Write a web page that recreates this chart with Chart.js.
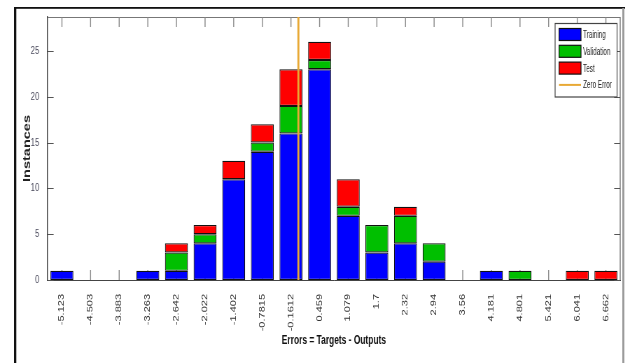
<!DOCTYPE html>
<html>
<head>
<meta charset="utf-8">
<script src="https://cdn.jsdelivr.net/npm/chart.js@4.4.0/dist/chart.umd.min.js"></script>
<style>
  html, body { margin: 0; padding: 0; background: #fff; overflow: hidden; }
  #wrap { width: 630px; height: 363px; overflow: hidden; position: relative; }
  /* the figure is laid out wide and condensed horizontally */
  #c { position: absolute; left: 0; top: 0; transform: scaleX(0.7); transform-origin: 0 0; }
</style>
</head>
<body>
<div id="wrap"><canvas id="c" width="900" height="363"></canvas></div>
<script>
// Error histogram with 20 bins
const binCenters = [-5.123, -4.503, -3.883, -3.263, -2.642, -2.022, -1.402, -0.7815, -0.1612, 0.459,
                    1.079, 1.7, 2.32, 2.94, 3.56, 4.181, 4.801, 5.421, 6.041, 6.662];
const binLabels = ['-5.123', '-4.503', '-3.883', '-3.263', '-2.642', '-2.022', '-1.402', '-0.7815', '-0.1612', '0.459',
                   '1.079', '1.7', '2.32', '2.94', '3.56', '4.181', '4.801', '5.421', '6.041', '6.662'];
const training   = [1, 0, 0, 1, 1, 4, 11, 14, 16, 23, 7, 3, 4, 2, 0, 1, 0, 0, 0, 0];
const validation = [0, 0, 0, 0, 2, 1, 0, 1, 3, 1, 1, 3, 3, 2, 0, 0, 1, 0, 0, 0];
const test       = [0, 0, 0, 0, 1, 1, 2, 2, 4, 2, 3, 0, 1, 0, 0, 0, 0, 0, 1, 1];
const zeroError  = 0;
const yMax = 28.7;
const yStep = 5;

const halfBin = (binCenters[binCenters.length - 1] - binCenters[0]) / (binCenters.length - 1) / 2;
const nz = arr => arr.map(v => (v === 0 ? null : v));

const SANS = "'Liberation Sans', Arial, sans-serif";

const barStyle = {
  borderColor: '#111',
  borderWidth: 1.2,
  borderSkipped: false,
  barPercentage: 0.8,
  categoryPercentage: 1.0,
  grouped: false,
  stack: 'errors',
  xAxisID: 'x',
  yAxisID: 'y'
};

// frame, inward tick marks, box around the plot and the legend
const figurePlugin = {
  id: 'figure',
  beforeDraw(chart) {
    const ctx = chart.ctx;
    ctx.save();
    ctx.fillStyle = '#fff';
    ctx.fillRect(0, 0, chart.width, chart.height);
    ctx.fillStyle = '#111';
    ctx.fillRect(20, 7, 873, 1.8);
    ctx.fillRect(20, 7, 3.3, chart.height - 7);
    ctx.fillStyle = '#9a9a9a';
    ctx.fillRect(889, 8, 2.9, chart.height - 8);
    ctx.restore();
  },
  beforeDatasetsDraw(chart) {
    const ctx = chart.ctx;
    const a = chart.chartArea;
    const xs = chart.scales.x, ys = chart.scales.y;
    ctx.save();
    ctx.strokeStyle = '#777';
    // top and right sides of the box
    ctx.lineWidth = 1;
    ctx.beginPath();
    ctx.moveTo(a.left, a.top + 0.5); ctx.lineTo(a.right, a.top + 0.5);
    ctx.stroke();
    ctx.lineWidth = 1.4;
    ctx.beginPath();
    ctx.moveTo(a.right, a.top); ctx.lineTo(a.right, a.bottom);
    ctx.stroke();
    // x ticks, pointing inward from bottom and top
    ctx.strokeStyle = '#888';
    ctx.lineWidth = 1.4;
    xs.ticks.forEach((t, i) => {
      const px = xs.getPixelForTick(i);
      ctx.beginPath();
      ctx.moveTo(px, a.bottom); ctx.lineTo(px, a.bottom - 10);
      ctx.moveTo(px, a.top); ctx.lineTo(px, a.top + 10);
      ctx.stroke();
    });
    // y ticks, pointing inward from left and right
    ctx.strokeStyle = '#555';
    ctx.lineWidth = 1;
    ys.ticks.forEach(t => {
      const py = Math.round(ys.getPixelForValue(t.value)) + 0.5;
      ctx.beginPath();
      ctx.moveTo(a.left, py); ctx.lineTo(a.left + 8.6, py);
      ctx.moveTo(a.right, py); ctx.lineTo(a.right - 8.6, py);
      ctx.stroke();
    });
    ctx.restore();
  },
  afterDatasetsDraw(chart) {
    const ctx = chart.ctx;
    const box = { left: 793, top: 23.5, right: 881.5, bottom: 97 };
    ctx.save();
    ctx.fillStyle = '#fff';
    ctx.fillRect(box.left, box.top, box.right - box.left, box.bottom - box.top);
    ctx.strokeStyle = '#444';
    ctx.lineWidth = 1.2;
    ctx.strokeRect(box.left, box.top, box.right - box.left, box.bottom - box.top);
    ctx.font = '11px ' + SANS;
    ctx.textBaseline = 'middle';
    ctx.textAlign = 'left';
    chart.data.datasets.forEach((ds, i) => {
      const cy = 34.5 + i * 16.8;
      const sx = 798.6, sw = 31.4;
      if (ds.type === 'line') {
        ctx.strokeStyle = ds.borderColor;
        ctx.lineWidth = 2;
        ctx.beginPath();
        ctx.moveTo(sx, cy); ctx.lineTo(sx + sw, cy);
        ctx.stroke();
      } else {
        ctx.fillStyle = ds.backgroundColor;
        ctx.fillRect(sx, cy - 6, sw, 12);
        ctx.strokeStyle = '#111';
        ctx.lineWidth = 1.2;
        ctx.strokeRect(sx, cy - 6, sw, 12);
      }
      // condensed legend lettering
      ctx.save();
      ctx.translate(833, cy + 0.5);
      ctx.scale(0.82, 1);
      ctx.fillStyle = '#222';
      ctx.fillText(ds.label, 0, 0);
      ctx.restore();
    });
    ctx.restore();
  }
};

new Chart(document.getElementById('c'), {
  type: 'bar',
  data: {
    labels: binLabels,
    datasets: [
      Object.assign({ label: 'Training', data: nz(training), backgroundColor: '#0000ff' }, barStyle),
      Object.assign({ label: 'Validation', data: nz(validation), backgroundColor: '#00bf00' }, barStyle),
      Object.assign({ label: 'Test', data: nz(test), backgroundColor: '#ff0000' }, barStyle),
      {
        type: 'line',
        label: 'Zero Error',
        data: [{ x: zeroError, y: 0 }, { x: zeroError, y: yMax }],
        xAxisID: 'xe',
        yAxisID: 'y',
        stack: 'zero',
        borderColor: '#e8a935',
        borderWidth: 2.8,
        pointRadius: 0,
        fill: false,
        order: -1
      }
    ]
  },
  options: {
    responsive: false,
    animation: false,
    devicePixelRatio: 1,
    layout: { padding: { left: 24, top: 17, right: 14, bottom: 0 } },
    plugins: { legend: { display: false }, tooltip: { enabled: false } },
    scales: {
      x: {
        type: 'category',
        stacked: true,
        offset: true,
        grid: { display: false },
        border: { display: true, color: '#444', width: 1 },
        ticks: {
          autoSkip: false,
          minRotation: 90,
          maxRotation: 90,
          padding: 6,
          color: '#333',
          font: { family: SANS, size: 11 }
        },
        title: {
          display: true,
          text: 'Errors = Targets - Outputs',
          color: '#111',
          font: { family: SANS, size: 12, weight: 'bold' },
          padding: { top: 0, bottom: 14.8 }
        },
        afterFit(s) { s.height = 83; }
      },
      xe: {
        type: 'linear',
        display: false,
        offset: false,
        grid: { offset: false },
        min: binCenters[0] - halfBin,
        max: binCenters[binCenters.length - 1] + halfBin
      },
      y: {
        type: 'linear',
        stacked: true,
        min: 0,
        max: yMax,
        grid: { display: false },
        border: { display: true, color: '#444', width: 1.4 },
        ticks: {
          stepSize: yStep,
          includeBounds: false,
          padding: 4,
          color: '#4a4a5c',
          font: { family: SANS, size: 11 }
        },
        title: {
          display: true,
          text: 'Instances',
          color: '#222',
          font: { family: SANS, size: 14.5, weight: 'bold' },
          padding: { top: 6.6, bottom: 0 }
        },
        afterFit(s) { s.width = 44; }
      }
    }
  },
  plugins: [figurePlugin]
});
</script>
</body>
</html>
